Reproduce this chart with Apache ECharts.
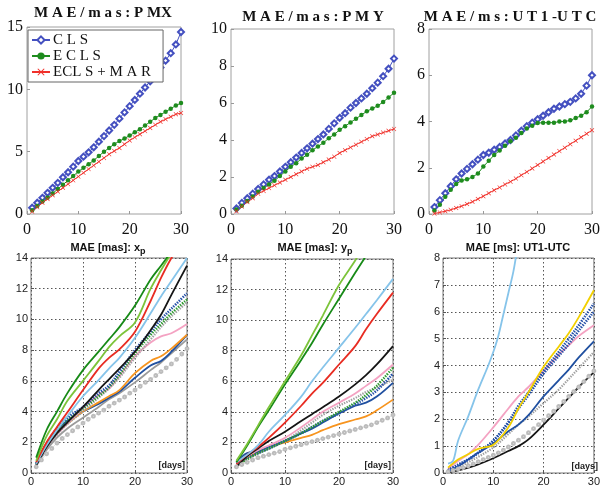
<!DOCTYPE html>
<html><head><meta charset="utf-8">
<script src="https://cdn.jsdelivr.net/npm/echarts@6/dist/echarts.min.js"></script>
<style>html,body{margin:0;padding:0;background:#fff}#c{width:603px;height:487px}</style>
</head><body><div id="c"></div>
<script>
// ---------- data: top row (daily, 1..30) ----------
const days = [1,2,3,4,5,6,7,8,9,10,11,12,13,14,15,16,17,18,19,20,21,22,23,24,25,26,27,28,29,30];
const seriesNames = ['C L S', 'E C L S', 'ECL S + M A R'];
const pmxCLS  = [0.5,0.9,1.3,1.7,2.1,2.5,2.95,3.35,3.8,4.25,4.6,4.95,5.35,5.8,6.25,6.7,7.15,7.65,8.15,8.65,9.15,9.65,10.15,10.65,11.2,11.75,12.3,12.9,13.6,14.6];
const pmxECLS = [0.3,0.65,1.0,1.3,1.65,2.0,2.35,2.7,3.05,3.4,3.7,4.0,4.3,4.65,5.0,5.3,5.6,5.85,6.05,6.3,6.55,6.8,7.1,7.4,7.7,7.95,8.2,8.45,8.7,8.9];
const pmxMAR  = [0.2,0.55,0.9,1.2,1.5,1.8,2.1,2.4,2.7,3.0,3.3,3.6,3.9,4.2,4.5,4.8,5.05,5.3,5.6,5.9,6.15,6.4,6.65,6.9,7.15,7.4,7.6,7.8,8.0,8.1];
const pmyCLS  = [0.3,0.6,0.85,1.1,1.35,1.6,1.85,2.05,2.3,2.55,2.8,3.05,3.3,3.55,3.8,4.05,4.3,4.6,4.9,5.2,5.45,5.75,6.0,6.25,6.5,6.8,7.1,7.45,7.85,8.4];
const pmyECLS = [0.25,0.45,0.7,0.95,1.2,1.4,1.6,1.8,2.05,2.3,2.55,2.75,3.0,3.2,3.45,3.65,3.85,4.1,4.3,4.55,4.75,4.95,5.15,5.35,5.55,5.7,5.85,6.05,6.3,6.55];
const pmyMAR  = [0.15,0.4,0.65,0.85,1.1,1.25,1.4,1.55,1.7,1.85,2.0,2.15,2.3,2.45,2.55,2.65,2.8,2.95,3.1,3.3,3.45,3.6,3.75,3.9,4.05,4.2,4.3,4.4,4.5,4.6];
const utCLS   = [0.3,0.6,0.9,1.2,1.5,1.75,1.95,2.15,2.35,2.55,2.65,2.78,2.9,3.05,3.2,3.4,3.6,3.8,3.95,4.1,4.25,4.4,4.55,4.65,4.75,4.85,5.0,5.2,5.55,6.0];
const utECLS  = [0.15,0.4,0.75,1.05,1.3,1.45,1.5,1.6,1.75,2.05,2.3,2.55,2.75,2.95,3.15,3.3,3.5,3.7,3.82,3.93,3.95,3.95,3.95,4.0,4.0,4.05,4.15,4.25,4.4,4.65];
const utMAR   = [0.02,0.07,0.12,0.18,0.26,0.34,0.43,0.53,0.65,0.77,0.9,1.03,1.15,1.28,1.4,1.53,1.68,1.82,1.97,2.12,2.27,2.42,2.57,2.72,2.87,3.02,3.17,3.32,3.47,3.62];

// ---------- data: bottom row ----------
const bDays = [1,3,5,7,10,13,15,17,20,23,25,27,30];
// x_p
const xpDarkGreen  = [1.0,2.8,4.0,5.2,6.7,7.9,8.7,9.5,10.9,12.6,13.5,14.4,15.6];
const xpLightGreen = [0.8,2.4,3.5,4.7,6.0,7.3,8.2,8.9,9.8,12.0,13.2,14.3,15.8];
const xpRed        = [0.7,2.0,3.0,3.95,5.4,6.8,7.5,8.05,9.2,11.2,12.7,14.0,15.6];
const xpLightBlue  = [0.6,1.8,2.8,3.7,5.0,6.05,6.8,7.5,8.8,10.4,11.5,12.5,14.0];
const xpBlack      = [0.5,1.7,2.6,3.3,4.3,5.4,6.1,6.8,7.9,9.3,10.3,11.6,13.5];
const xpBlueDot    = [0.6,1.9,2.9,3.6,4.3,5.2,5.7,6.6,8.0,9.2,10.0,10.7,11.7];
const xpGreenDot   = [0.6,1.9,2.8,3.5,4.2,5.0,5.6,6.4,7.8,9.0,9.7,10.4,11.3];
const xpGrayDot    = [0.5,1.6,2.5,3.2,4.0,4.9,5.5,6.2,7.5,8.7,9.5,10.2,11.1];
const xpPink       = [0.6,1.7,2.5,3.2,4.2,5.1,5.5,6.3,7.6,8.5,8.9,9.1,9.7];
const xpOrange     = [0.6,1.8,2.6,3.2,4.0,4.6,5.0,5.4,6.5,7.3,7.6,8.1,9.0];
const xpDarkBlue   = [0.6,1.9,2.8,3.4,4.0,4.5,4.9,5.3,6.2,7.0,7.3,7.9,9.0];
const xpGraySolid  = [0.5,1.5,2.3,2.9,3.6,4.3,4.8,5.2,5.9,6.7,7.2,7.8,8.7];
const xpGrayCircle = [0.4,0.85,1.25,1.6,1.95,2.25,2.5,2.75,3.0,3.25,3.5,3.7,3.9,4.1,4.35,4.55,4.75,4.95,5.2,5.4,5.65,5.9,6.1,6.35,6.6,6.85,7.1,7.4,7.75,8.1];
// y_p
const ypLightGreen = [0.8,1.9,3.1,4.3,6.0,7.7,9.0,10.3,12.3,13.9,15.1,16.3,18.1];
const ypDarkGreen  = [0.7,1.8,3.0,4.1,5.8,7.4,8.5,9.7,11.4,13.1,14.2,15.3,17.0];
const ypLightBlue  = [0.7,1.2,1.8,2.7,3.8,5.0,6.0,6.9,8.2,9.5,10.4,11.3,12.7];
const ypRed        = [0.6,1.2,1.7,2.3,3.3,4.4,5.2,5.9,7.1,8.3,9.4,10.4,11.8];
const ypBlack      = [0.4,1.1,1.6,2.1,2.7,3.4,3.85,4.3,5.0,5.8,6.4,7.1,8.3];
const ypPink       = [0.5,1.1,1.5,1.8,2.3,3.0,3.5,4.0,4.6,5.2,5.7,6.2,7.1];
const ypGreenDot   = [0.5,0.9,1.3,1.6,2.1,2.6,3.0,3.4,4.0,4.6,5.1,5.7,6.9];
const ypGrayDot    = [0.45,0.9,1.25,1.6,2.1,2.8,3.3,3.8,4.4,4.9,5.3,5.6,6.1];
const ypBlueDot    = [0.6,1.0,1.3,1.6,2.1,2.6,3.0,3.4,3.9,4.5,4.9,5.4,6.5];
const ypDarkBlue   = [0.7,1.3,1.4,1.7,2.1,2.6,2.9,3.3,3.9,4.4,4.6,5.0,5.9];
const ypOrange     = [0.5,1.0,1.4,1.7,2.0,2.3,2.5,2.8,3.2,3.5,3.7,4.1,4.8];
const ypGrayCircle = [0.4,0.55,0.7,0.85,1.0,1.1,1.2,1.3,1.4,1.55,1.65,1.75,1.85,1.95,2.05,2.15,2.25,2.35,2.45,2.55,2.65,2.75,2.85,2.95,3.05,3.15,3.3,3.45,3.6,3.8];
// UT1-UTC
const utLbDays     = [1,2,3,5,7,9,10,11,12,13,14,15,17];
const utLightBlue  = [0.35,0.45,1.2,2.1,3.1,4.0,4.5,5.1,5.9,6.7,7.5,8.6,10.5];
const utYellow     = [0.2,0.5,0.7,0.9,1.05,1.7,2.4,3.0,3.95,4.7,5.2,5.8,6.8];
const utBlueDot1   = [0.1,0.3,0.5,0.75,1.2,1.9,2.5,3.0,3.8,4.5,5.0,5.5,6.3];
const utBlueDot2   = [0.1,0.3,0.5,0.75,1.2,1.85,2.4,2.9,3.7,4.35,4.8,5.3,6.0];
const utPink       = [0.15,0.45,0.7,1.05,1.7,2.4,2.85,3.2,3.8,4.4,4.75,5.1,5.5];
const utDarkBlue   = [0.05,0.25,0.5,0.75,1.1,1.55,1.8,2.15,2.85,3.45,3.85,4.3,4.9];
const utGrayDot    = [0.05,0.2,0.4,0.6,0.95,1.45,1.8,2.1,2.6,3.1,3.5,3.9,4.5];
const utBlack      = [0.02,0.1,0.2,0.32,0.55,0.82,1.0,1.25,1.8,2.4,2.8,3.2,3.75];
const utGrayCircle = [0.05,0.1,0.15,0.2,0.27,0.34,0.42,0.5,0.58,0.66,0.75,0.85,0.97,1.1,1.22,1.35,1.5,1.65,1.8,1.97,2.13,2.3,2.48,2.66,2.85,3.03,3.2,3.4,3.6,3.8];

// ---------- build ----------
const pairs = (xs, ys) => xs.map((x, i) => [x, ys[i]]);
const C = {blue:'#4450c0', green:'#1e8c1e', red:'#f0302a'};
const xMark = 'path://M0,1L1,0L5,4L9,0L10,1L6,5L10,9L9,10L5,6L1,10L0,9L4,5Z';
const serif = 'Liberation Serif';
const sans = 'Liberation Sans';

const grids = [
  {left:27, top:27, width:154, height:187},
  {left:231, top:29, width:163, height:185},
  {left:429, top:29, width:164, height:185},
  {left:31, top:258, width:156, height:215},
  {left:231, top:259, width:162, height:214},
  {left:443, top:258, width:157, height:215}
].map((g, i) => Object.assign({show:true, borderColor: i < 3 ? '#a0a0a0' : '#777', borderWidth:1, backgroundColor:'transparent'}, g));

function topX(i){ return {type:'value', gridIndex:i, min:0, max:30, interval:10,
  axisLine:{show:false}, splitLine:{show:false},
  axisTick:{show:true, inside:true, length:3, lineStyle:{color:'#999'}},
  axisLabel:{fontFamily:serif, fontSize:16, color:'#111', margin:8}}; }
function topY(i, max, iv){ return {type:'value', gridIndex:i, min:0, max:max, interval:iv,
  axisLine:{show:false}, splitLine:{show:false},
  axisTick:{show:true, inside:true, length:3, lineStyle:{color:'#999'}},
  axisLabel:{fontFamily:serif, fontSize:16, color:'#111', margin:4}}; }
function botX(i){ return {type:'value', gridIndex:i, min:0, max:30, interval:10,
  axisLine:{show:false},
  splitLine:{show:true, lineStyle:{type:[1.5,2.5], color:'#555', width:1}},
  axisTick:{show:true, inside:true, length:3, lineStyle:{color:'#555'}},
  axisLabel:{fontFamily:sans, fontSize:11, color:'#222', margin:3}}; }
function botY(i, max, iv){ return {type:'value', gridIndex:i, min:0, max:max, interval:iv,
  axisLine:{show:false},
  splitLine:{show:true, lineStyle:{type:[1.5,2.5], color:'#555', width:1}},
  axisTick:{show:true, inside:true, length:3, lineStyle:{color:'#555'}},
  axisLabel:{fontFamily:sans, fontSize:11, color:'#222', margin:3}}; }

const xAxis = [topX(0), topX(1), topX(2), botX(3), botX(4), botX(5)];
const yAxis = [topY(0,15,5), topY(1,10,2), topY(2,8,2), botY(3,14,2), botY(4,14,2), botY(5,8,1)];

const series = [];
function topSet(i, a, b, c){
  series.push({name:seriesNames[0], type:'line', xAxisIndex:i, yAxisIndex:i, data:pairs(days,a),
    symbol:'emptyDiamond', symbolSize:6, itemStyle:{color:C.blue, borderWidth:1}, lineStyle:{color:C.blue, width:1}});
  series.push({name:seriesNames[1], type:'line', xAxisIndex:i, yAxisIndex:i, data:pairs(days,b),
    symbol:'circle', symbolSize:4.5, itemStyle:{color:C.green}, lineStyle:{color:C.green, width:1}});
  series.push({name:seriesNames[2], type:'line', xAxisIndex:i, yAxisIndex:i, data:pairs(days,c),
    symbol:xMark, symbolSize:4.5, itemStyle:{color:C.red}, lineStyle:{color:C.red, width:1}});
}
topSet(0, pmxCLS, pmxECLS, pmxMAR);
topSet(1, pmyCLS, pmyECLS, pmyMAR);
topSet(2, utCLS, utECLS, utMAR);

function bl(i, xs, ys, color, opt){
  opt = opt || {};
  series.push({type:'line', xAxisIndex:i, yAxisIndex:i, data:pairs(xs,ys), smooth:0.35,
    symbol: opt.symbol || 'none', symbolSize: opt.size || 4, showSymbol: !!opt.symbol,
    itemStyle:{color:color, borderWidth:0.6},
    lineStyle:{color:color, width: opt.w || 1.8, type: opt.type || 'solid'}, silent:true});
}
const col = {dg:'#178a17', lg:'#7cc43a', red:'#e82c22', lb:'#86c4ea', blk:'#151515', bd:'#2450a8',
  gd:'#2c9a2c', gry:'#9a9a9a', pink:'#f4a2c2', org:'#f7941e', dblue:'#2050a0', yel:'#f2d000'};
const dots = [1.4,1.2];
const gc = {symbol:'emptyCircle', size:2.8, w:0.5};
// x_p
bl(3, days, xpGrayCircle, '#bcbcbc', gc);
bl(3, bDays, xpGraySolid, col.gry);
bl(3, bDays, xpDarkBlue, col.dblue);
bl(3, bDays, xpOrange, col.org);
bl(3, bDays, xpPink, col.pink);
bl(3, bDays, xpGrayDot, '#a0a0a0', {type:dots, w:2.2});
bl(3, bDays, xpGreenDot, col.gd, {type:dots, w:2.4});
bl(3, bDays, xpBlueDot, col.bd, {type:dots, w:2.6});
bl(3, bDays, xpBlack, col.blk);
bl(3, bDays, xpLightBlue, col.lb);
bl(3, bDays, xpRed, col.red);
bl(3, bDays, xpLightGreen, col.lg);
bl(3, bDays, xpDarkGreen, col.dg);
// y_p
bl(4, days, ypGrayCircle, '#bcbcbc', gc);
bl(4, bDays, ypOrange, col.org);
bl(4, bDays, ypDarkBlue, col.dblue);
bl(4, bDays, ypGrayDot, '#a0a0a0', {type:dots, w:2.2});
bl(4, bDays, ypBlueDot, col.bd, {type:dots, w:2.6});
bl(4, bDays, ypGreenDot, col.gd, {type:dots, w:2.4});
bl(4, bDays, ypPink, col.pink);
bl(4, bDays, ypBlack, col.blk);
bl(4, bDays, ypRed, col.red);
bl(4, bDays, ypLightBlue, col.lb);
bl(4, bDays, ypDarkGreen, col.dg);
bl(4, bDays, ypLightGreen, col.lg);
// UT1-UTC
bl(5, bDays, utBlack, col.blk);
bl(5, days, utGrayCircle, '#bcbcbc', gc);
bl(5, bDays, utGrayDot, '#a0a0a0', {type:dots, w:2.2});
bl(5, bDays, utDarkBlue, col.dblue);
bl(5, bDays, utPink, col.pink);
bl(5, bDays, utBlueDot2, col.bd, {type:dots, w:2.6});
bl(5, bDays, utBlueDot1, col.bd, {type:dots, w:2.6});
bl(5, bDays, utYellow, col.yel);
bl(5, utLbDays, utLightBlue, col.lb);

const topTitle = (x, y, t) => ({type:'text', x:x, y:y, style:{text:t, textAlign:'center', textVerticalAlign:'middle',
  font:'bold 15px "Liberation Serif"', fill:'#111'}});
const botTitle = (x, y, main, sub) => ({type:'text', x:x, y:y, style:{
  text:'{a|' + main + '}' + (sub ? '{s|' + sub + '}' : ''), textAlign:'center', textVerticalAlign:'middle',
  rich:{a:{fontFamily:sans, fontWeight:'bold', fontSize:11, fill:'#111', lineHeight:14},
        s:{fontFamily:sans, fontWeight:'bold', fontSize:9, fill:'#111', padding:[7,0,0,0], lineHeight:14}}}});
const daysLabel = (x, y) => ({type:'text', x:x, y:y, z:50, style:{text:'[days]', textAlign:'right', textVerticalAlign:'middle',
  font:'bold 9px "Liberation Sans"', fill:'#222'}});

const option = {
  animation:false,
  backgroundColor:'#fff',
  grid: grids, xAxis: xAxis, yAxis: yAxis, series: series,
  legend:{data:seriesNames, orient:'vertical', left:28, top:30, width:115,
    backgroundColor:'#fff', borderColor:'#666', borderWidth:1, borderRadius:0,
    padding:[2,12,2,3], itemGap:0, itemWidth:18, itemHeight:9,
    textStyle:{fontFamily:serif, fontSize:15, color:'#111', lineHeight:16, padding:[0,0,0,-2]}},
  graphic:[
    topTitle(103, 13, 'M A E / m a s : P MX'),
    topTitle(313, 17, 'M A E / m a s : P M Y'),
    topTitle(510, 17, 'M A E / m s : U T 1 -U T C'),
    botTitle(108, 248, 'MAE [mas]: x', 'p'),
    botTitle(315, 248, 'MAE [mas]: y', 'p'),
    botTitle(518, 248, 'MAE [ms]: UT1-UTC', ''),
    daysLabel(185, 466),
    daysLabel(391, 466),
    daysLabel(598, 467)
  ]
};
const chart = echarts.init(document.getElementById('c'), null, {renderer:'canvas'});
chart.setOption(option);
</script></body></html>
